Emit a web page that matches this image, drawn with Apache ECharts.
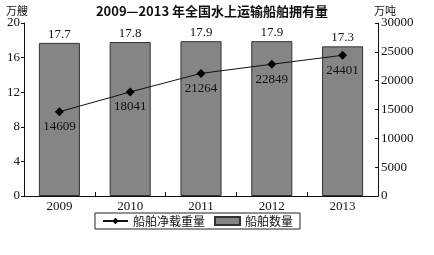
<!DOCTYPE html>
<html><head><meta charset="utf-8">
<script src="https://cdn.jsdelivr.net/npm/echarts@6/dist/echarts.min.js"></script>
<style>html,body{margin:0;padding:0;background:#fff}#c{width:434px;height:255px}</style>
</head><body><div id="c"></div>
<script>
const years = ['2009','2010','2011','2012','2013'];
const shipCount = [17.7, 17.8, 17.9, 17.9, 17.3];
const netTonnage = [14609, 18041, 21264, 22849, 24401];
const leftTicks = [0, 4, 8, 12, 16, 20];
const rightTicks = [0, 5000, 10000, 15000, 20000, 25000, 30000];

const serif = 'Liberation Serif';
const cjk = 'Noto Sans CJK SC';
const chart = echarts.init(document.getElementById('c'), null, {renderer:'canvas'});
chart.setOption({
  backgroundColor: '#fff',
  animation: false,
  title: {
    text: '2009—2013 年全国水上运输船舶拥有量',
    left: 207, top: 0, textAlign: 'center',
    textStyle: {fontFamily: cjk, fontSize: 13, fontWeight: 'bold', color: '#111'}
  },
  legend: {
    left: 95, top: 213, width: 209, height: 18,
    borderColor: '#222', borderWidth: 1, padding: [2, 7, 2, 7],
    itemGap: 9, itemHeight: 8, itemWidth: 25,
    textStyle: {fontFamily: cjk, fontSize: 12, color: '#111'},
    data: [
      {name: '船舶净载重量', itemStyle: {color: '#000'}},
      {name: '船舶数量', icon: 'rect'}
    ]
  },
  grid: {left: 24, right: 56, top: 23, bottom: 59},
  xAxis: {
    type: 'category', data: years,
    axisLine: {lineStyle: {color: '#111', width: 1}},
    axisTick: {show: true, alignWithLabel: false, length: -4, lineStyle: {color: '#111'}},
    axisLabel: {fontFamily: serif, fontSize: 13, color: '#111', margin: 4}
  },
  yAxis: [
    {
      type: 'value', min: 0, max: 20, interval: 4,
      name: '万艘', nameLocation: 'end', nameGap: 6,
      nameTextStyle: {fontFamily: cjk, fontSize: 11, color: '#111', align: 'right', padding: [0, -4, 0, 0]},
      axisLine: {show: true, lineStyle: {color: '#111'}},
      axisTick: {show: true, length: 3, lineStyle: {color: '#111'}},
      splitLine: {show: false},
      axisLabel: {fontFamily: serif, fontSize: 13, color: '#111', margin: 4}
    },
    {
      type: 'value', min: 0, max: 30000, interval: 5000,
      name: '万吨', nameLocation: 'end', nameGap: 5,
      nameTextStyle: {fontFamily: cjk, fontSize: 11, color: '#111', align: 'left', padding: [0, 0, 0, -4]},
      axisLine: {show: true, lineStyle: {color: '#111'}},
      axisTick: {show: true, inside: true, length: 3, lineStyle: {color: '#111'}},
      splitLine: {show: false},
      axisLabel: {fontFamily: serif, fontSize: 13, color: '#111', margin: 3, formatter: v => String(v)}
    }
  ],
  series: [
    {
      name: '船舶数量', type: 'bar', yAxisIndex: 0, data: shipCount,
      barWidth: '58%',
      itemStyle: {color: '#858585', borderColor: '#333', borderWidth: 1},
      label: {show: true, position: 'top', distance: 2, fontFamily: serif, fontSize: 13, color: '#111'},
      z: 1
    },
    {
      name: '船舶净载重量', type: 'line', yAxisIndex: 1, data: netTonnage,
      symbol: 'diamond', symbolSize: 9,
      lineStyle: {color: '#111', width: 1},
      itemStyle: {color: '#000'},
      label: {show: true, position: 'bottom', distance: 4, fontFamily: serif, fontSize: 13, color: '#111'},
      z: 3
    }
  ]
});
</script></body></html>
